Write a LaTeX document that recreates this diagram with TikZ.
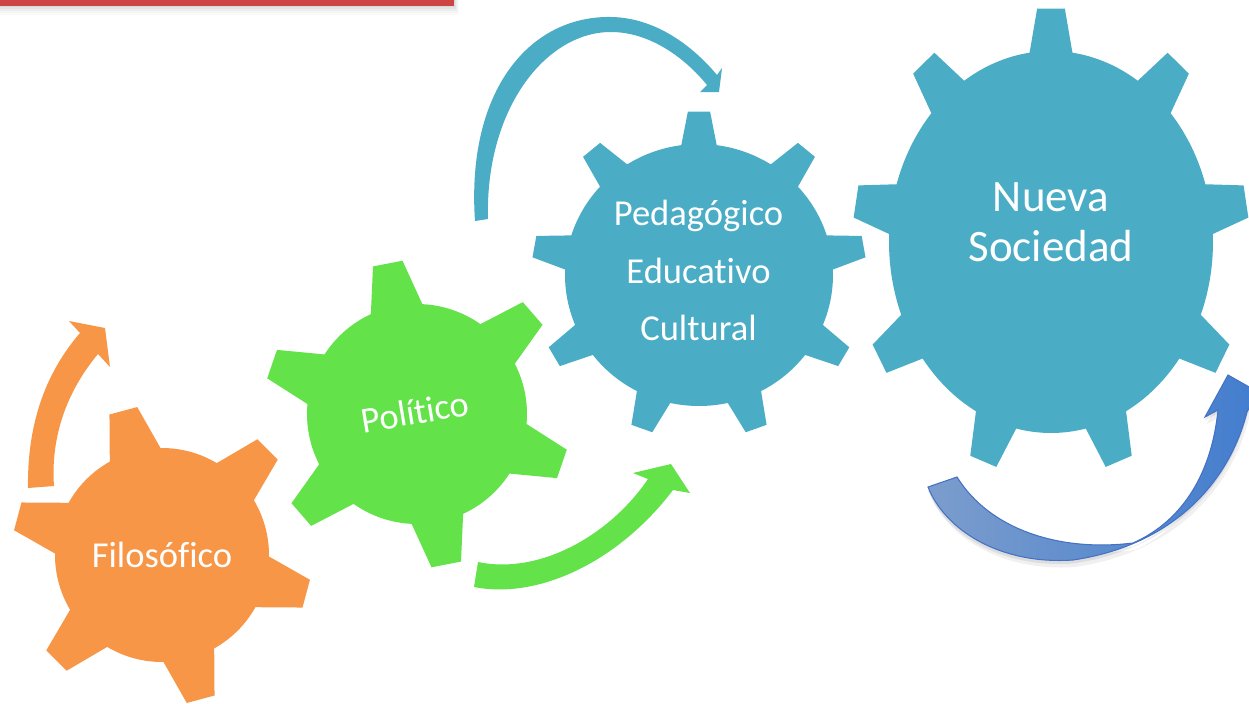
\documentclass[tikz,border=0pt]{standalone}
\usepackage{fontspec}
\setmainfont{Carlito}[Ligatures=NoCommon]
\definecolor{gOrange}{RGB}{247,150,70}
\definecolor{gGreen}{RGB}{99,226,73}
\definecolor{gBlue}{RGB}{75,172,198}
\definecolor{gRed}{RGB}{205,68,68}
\definecolor{arrL}{RGB}{124,157,205}
\definecolor{arrR}{RGB}{66,125,206}
\definecolor{arrEdge}{RGB}{68,114,196}
% #1 style, #2 centre, #3 rx, #4 ry, #5 outer/inner ratio, #6 teeth, #7 first tooth angle, #8 tip half angle, #9 base half angle
\newcommand\gearshape[9]{%
  \begin{scope}[shift={#2}, yscale=-1]
    \fill[#1] ({#3*cos(#7-#9)},{#4*sin(#7-#9)})
      \foreach \k [evaluate=\k as \a using {#7+(\k-1)*360/#6}] in {1,...,#6} {
        -- ({#3*#5*cos(\a-#8)},{#4*#5*sin(\a-#8)})
        -- ({#3*#5*cos(\a+#8)},{#4*#5*sin(\a+#8)})
        -- ({#3*cos(\a+#9)},{#4*sin(\a+#9)})
        arc[start angle=\a+#9, end angle=\a+360/#6-#9, x radius=#3, y radius=#4]
      } -- cycle;
  \end{scope}}
\def\swooshpath{(928,487) -- (957,477) .. controls (990,530) and (1060,552) .. (1133,543)
  .. controls (1185,520) and (1212,470) .. (1218,410) -- (1205,417) -- (1228,375)
  -- (1258,392) -- (1247,412) .. controls (1230,480) and (1175,545) .. (1073,560)
  .. controls (1000,565) and (945,530) .. (928,487) -- cycle}
\begin{document}
\begin{tikzpicture}[x=0.02cm,y=-0.02cm,
  lbl/.style={text=white, inner sep=0pt, anchor=base},
  lblA/.style={lbl, font=\fontsize{20.8}{25}\selectfont},
  lblB/.style={lbl, font=\fontsize{25.6}{30}\selectfont}]
\useasboundingbox (0,0) rectangle (1249,704);
% red bar with its shadow
\foreach \s/\g in {9/2,7/4,5/7,3/11,1/15}
  \fill[black!\g] (0,0) rectangle (454+0.6*\s,6+\s);
\fill[gRed] (0,0) rectangle (454,6);
% gears
\gearshape{gOrange}{(162,555)}{107}{107}{1.402}{6}{45}{5.5}{14.2}
\gearshape{gGreen}{(417,414)}{110}{110}{1.40}{6}{41}{5.6}{13.8}
\gearshape{gBlue}{(699,275)}{134}{131}{1.25}{9}{90}{3.8}{7.6}
\gearshape{gBlue}{(1051,242)}{162}{191}{1.225}{9}{90}{4.0}{7.6}
% circular arrows
\fill[gOrange] (28,488) .. controls (27,420) and (48,370) .. (80,333) -- (69,321) -- (105,328)
  -- (110,367) -- (98,354) .. controls (72,385) and (50,430) .. (54,486) -- cycle;
\fill[gGreen] (474,587) .. controls (540,600) and (620,560) .. (673,490) -- (690,493) -- (671,464)
  -- (633,473) -- (648,479) .. controls (610,535) and (540,575) .. (478,562) -- cycle;
\fill[gBlue] (475,221) .. controls (466,90) and (530,15) .. (612,17) .. controls (655,18) and (692,45) .. (717,75)
  -- (722,68) -- (719,92) -- (700,92) -- (707,85) .. controls (685,58) and (650,32) .. (611,32)
  .. controls (545,32) and (485,110) .. (488,219) -- cycle;
\fill[black, opacity=0.06, yshift=-4pt, xshift=1pt] \swooshpath;
\fill[black, opacity=0.08, yshift=-2pt] \swooshpath;
\path[left color=arrL, right color=arrR, draw=arrEdge, line width=0.6pt] \swooshpath;
% labels
\node[lblA] (filo) at (162,567) {Filosóf\kern0pt ico};
\node[lblA, rotate=9.5] (poli) at (417,424) {Polít\kern0pt ico};
\node[lblA] (ped) at (698.5,225) {Pedagógico};
\node[lblA] (edu) at (698.5,283) {Educat\kern0pt ivo};
\node[lblA] (cul) at (698.5,340) {Cultural};
\node[lblB] (nueva) at (1051,211.7) {Nueva};
\node[lblB] (soc) at (1051,261.7) {Sociedad};
\end{tikzpicture}
\end{document}
